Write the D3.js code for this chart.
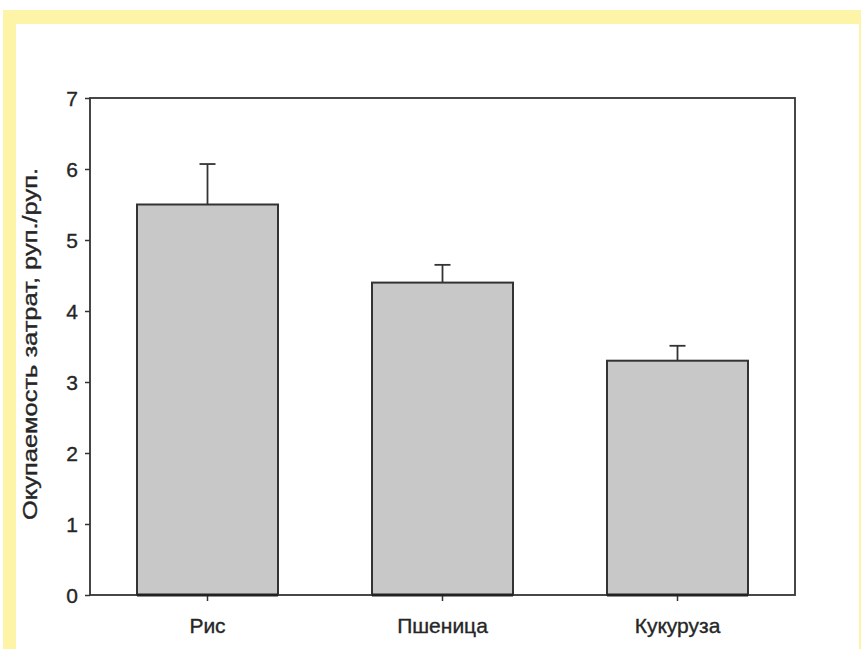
<!DOCTYPE html>
<html>
<head>
<meta charset="utf-8">
<script src="https://cdn.jsdelivr.net/npm/d3@7"></script>
<style>
  body { margin: 0; background: #fff; }
  svg text { font-family: "Liberation Sans", Arial, sans-serif; fill: #262626; stroke: #262626; stroke-width: 0.35px; }
</style>
</head>
<body>
<svg id="chart" width="861" height="649"></svg>
<script>
  // data
  var crops = ['Рис', 'Пшеница', 'Кукуруза'];
  var values = [5.5, 4.4, 3.3];
  var errors = [0.57, 0.25, 0.21];
  var yTicks = [0, 1, 2, 3, 4, 5, 6, 7];
  var yTitle = 'Окупаемость затрат, руп./руп.';

  var svg = d3.select('#chart');
  var W = 861, H = 649;

  // yellow frame round the figure
  svg.append('rect').attr('x', 3).attr('y', 10).attr('width', W).attr('height', H)
    .attr('fill', '#fdf4a8');
  svg.append('rect').attr('x', 16).attr('y', 24).attr('width', 843).attr('height', H)
    .attr('fill', '#fff');

  var margin = { top: 98, right: 66, bottom: 54, left: 90 };
  var plotW = W - margin.left - margin.right;
  var plotH = H - margin.top - margin.bottom;

  var x = d3.scaleBand()
    .domain(crops)
    .range([margin.left, margin.left + plotW])
    .paddingInner(0.4)
    .paddingOuter(0.2);

  var y = d3.scaleLinear()
    .domain([0, 7])
    .range([margin.top + plotH, margin.top]);

  var stroke = '#333';

  // axes
  var yAxis = d3.axisLeft(y).tickValues(yTicks).tickSize(5).tickPadding(7).tickFormat(d3.format('d'));
  var gy = svg.append('g')
    .attr('transform', 'translate(' + margin.left + ',0)')
    .call(yAxis);
  gy.select('.domain').remove();
  gy.selectAll('line').attr('stroke', stroke).attr('stroke-width', 1.5);
  gy.selectAll('text').style('font-size', '21px').attr('dy', '0.36em');

  var xAxis = d3.axisBottom(x).tickSize(6).tickPadding(17);
  var gx = svg.append('g')
    .attr('transform', 'translate(0,' + y(0) + ')')
    .call(xAxis);
  gx.select('.domain').remove();
  gx.selectAll('line').attr('stroke', stroke).attr('stroke-width', 1.5);
  gx.selectAll('text').style('font-size', '21px');

  // frame
  svg.append('rect')
    .attr('x', margin.left).attr('y', margin.top)
    .attr('width', plotW).attr('height', plotH)
    .attr('fill', 'none').attr('stroke', stroke).attr('stroke-width', 1.8);

  // error whiskers (upper only)
  var eb = svg.append('g');
  crops.forEach(function(c, i) {
    var cx = x(c) + x.bandwidth() / 2;
    eb.append('line')
      .attr('x1', cx).attr('x2', cx)
      .attr('y1', y(values[i])).attr('y2', y(values[i] + errors[i]))
      .attr('stroke', stroke).attr('stroke-width', 1.8);
    eb.append('line')
      .attr('x1', cx - 8).attr('x2', cx + 8)
      .attr('y1', y(values[i] + errors[i])).attr('y2', y(values[i] + errors[i]))
      .attr('stroke', stroke).attr('stroke-width', 1.8);
  });

  // bars
  svg.append('g').selectAll('rect')
    .data(crops)
    .enter()
    .append('rect')
    .attr('x', function(d) { return x(d); })
    .attr('y', function(d, i) { return y(values[i]); })
    .attr('width', x.bandwidth())
    .attr('height', function(d, i) { return y(0) - y(values[i]); })
    .attr('fill', '#c8c8c9')
    .attr('stroke', stroke)
    .attr('stroke-width', 2);

  // bar bottoms are drawn a bit heavier
  svg.append('g').selectAll('line')
    .data(crops)
    .enter()
    .append('line')
    .attr('x1', function(d) { return x(d); })
    .attr('x2', function(d) { return x(d) + x.bandwidth(); })
    .attr('y1', y(0)).attr('y2', y(0))
    .attr('stroke', '#222').attr('stroke-width', 3);

  // y title (the source picture is stretched a little vertically)
  svg.append('text')
    .attr('transform', 'translate(37,344) rotate(-90)')
    .attr('text-anchor', 'middle')
    .attr('textLength', 352)
    .attr('lengthAdjust', 'spacingAndGlyphs')
    .style('font-size', '20px')
    .text(yTitle);
</script>
</body>
</html>
